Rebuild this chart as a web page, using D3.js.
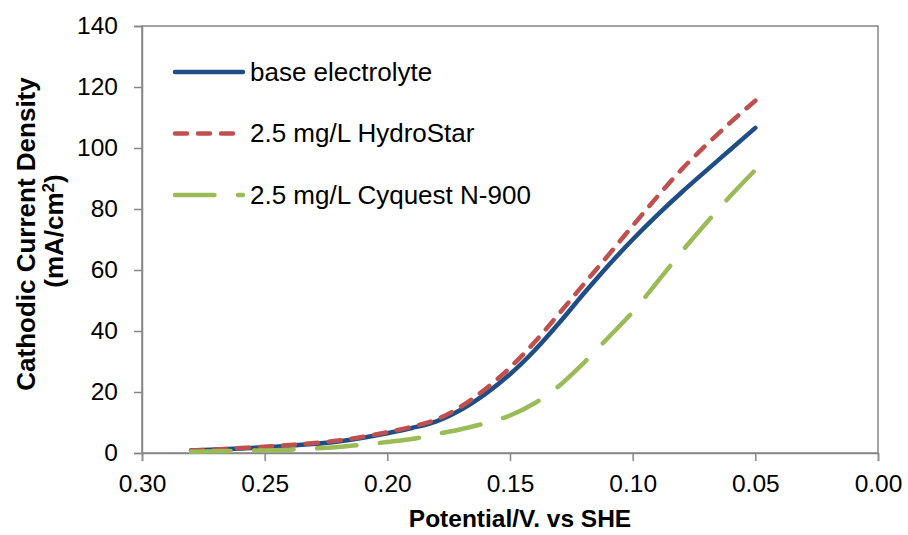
<!DOCTYPE html>
<html>
<head>
<meta charset="utf-8">
<script src="https://cdn.jsdelivr.net/npm/d3@7"></script>
<style>
  body { margin: 0; background: #fff; }
  text { font-family: "Liberation Sans", Arial, sans-serif; fill: #000; }
</style>
</head>
<body>
<div id="vis"></div>
<script>
// values
const potential = [0.28, 0.26, 0.24, 0.22, 0.20, 0.19, 0.18, 0.17, 0.16, 0.15, 0.14, 0.13, 0.12, 0.11, 0.10, 0.09, 0.08, 0.07, 0.06, 0.05];
const baseElectrolyte = [0.8, 1.5, 2.4, 3.8, 6.5, 8.2, 10.4, 14.2, 19.4, 25.8, 33.6, 42.6, 52.2, 61.4, 70.0, 78.0, 85.5, 92.6, 99.6, 106.6];
const hydroStar = [0.8, 1.6, 2.6, 4.1, 6.8, 8.6, 11.0, 15.2, 21.0, 28.0, 36.3, 45.7, 55.3, 64.8, 74.5, 84.0, 93.0, 101.0, 108.5, 115.5];
const cyquest = [0.4, 0.7, 1.1, 2.0, 3.6, 4.6, 6.2, 7.8, 9.8, 12.3, 16.3, 22.0, 29.5, 37.8, 46.2, 56.0, 66.0, 75.4, 84.4, 92.8];
const seriesNames = ["base electrolyte", "2.5 mg/L HydroStar", "2.5 mg/L Cyquest N-900"];
const xTicks = [0.30, 0.25, 0.20, 0.15, 0.10, 0.05, 0.00];
const yTicks = [0, 20, 40, 60, 80, 100, 120, 140];

const margin = {top: 26, right: 30, bottom: 82, left: 142};
const fullW = 908, fullH = 535;
const width = fullW - margin.left - margin.right;
const height = fullH - margin.top - margin.bottom;

const series = [
  {name: seriesNames[0], values: baseElectrolyte, color: "#1F4E86", dash: null},
  {name: seriesNames[1], values: hydroStar, color: "#C0504D", dash: "12,11"},
  {name: seriesNames[2], values: cyquest, color: "#9BBB59", dash: "39.5,23.5"}
];

const svg = d3.select('#vis')
  .append('svg')
  .attr('width', fullW)
  .attr('height', fullH)
  .append('g')
  .attr('transform', `translate(${margin.left},${margin.top})`);

let xScale = d3.scaleLinear().domain([0.30, 0.00]).range([0, width]);
let yScale = d3.scaleLinear().domain([0, 140]).range([height, 0]);

const axisColor = "#868686";

// plot area border (top + right)
svg.append("rect")
  .attr("x", 0).attr("y", 0)
  .attr("width", width).attr("height", height)
  .attr("fill", "none")
  .attr("stroke", axisColor)
  .attr("stroke-width", 1.5);

let yAxis = svg.append("g")
  .call(d3.axisLeft(yScale).tickValues(yTicks).tickSize(8).tickPadding(16).tickFormat(d3.format("d")));
let xAxis = svg.append("g")
  .attr("transform", `translate(0,${height})`)
  .call(d3.axisBottom(xScale).tickValues(xTicks).tickSize(8).tickPadding(14).tickFormat(d3.format(".2f")));

[xAxis, yAxis].forEach(a => {
  a.select(".domain").attr("stroke", axisColor).attr("stroke-width", 1.5);
  a.selectAll(".tick line").attr("stroke", axisColor).attr("stroke-width", 1.5);
  a.selectAll(".tick text")
    .style("font-family", '"Liberation Sans", Arial, sans-serif')
    .style("font-size", "24.5px")
    .attr("fill", "#000");
});

const line = d3.line()
  .x((d, i) => xScale(potential[i]))
  .y(d => yScale(d))
  .curve(d3.curveMonotoneX);

series.forEach(s => {
  svg.append("path")
    .datum(s.values)
    .attr("d", line)
    .attr("fill", "none")
    .attr("stroke", s.color)
    .attr("stroke-width", 4.5)
    .attr("stroke-linecap", "round")
    .attr("stroke-dasharray", s.dash);
});

// legend
const legend = svg.append("g").attr("transform", `translate(${175 - margin.left},${72 - margin.top})`);
series.forEach((s, i) => {
  const g = legend.append("g").attr("transform", `translate(0,${i * 61.5})`);
  g.append("line")
    .attr("x1", 0).attr("x2", 68)
    .attr("y1", 0).attr("y2", 0)
    .attr("stroke", s.color)
    .attr("stroke-width", 4.5)
    .attr("stroke-linecap", "round")
    .attr("stroke-dasharray", s.dash);
  g.append("text")
    .attr("x", 75)
    .attr("y", 8.8)
    .style("font-size", "26px")
    .text(s.name);
});

// axis titles
svg.append("text")
  .attr("x", 520 - margin.left)
  .attr("y", 527 - margin.top)
  .attr("text-anchor", "middle")
  .style("font-size", "24.5px")
  .style("font-weight", "bold")
  .text("Potential/V. vs SHE");

const yTitle = svg.append("text")
  .attr("transform", `translate(${35 - margin.left},${234 - margin.top}) rotate(-90)`)
  .attr("text-anchor", "middle")
  .style("font-size", "26px")
  .style("font-weight", "bold");
yTitle.append("tspan").attr("x", 0).attr("y", 0).text("Cathodic Current Density");
const t2 = yTitle.append("tspan").attr("x", 3).attr("y", 28);
t2.append("tspan").text("(mA/cm");
t2.append("tspan").attr("dy", -9).style("font-size", "17px").text("2");
t2.append("tspan").attr("dy", 9).text(")");
</script>
</body>
</html>
